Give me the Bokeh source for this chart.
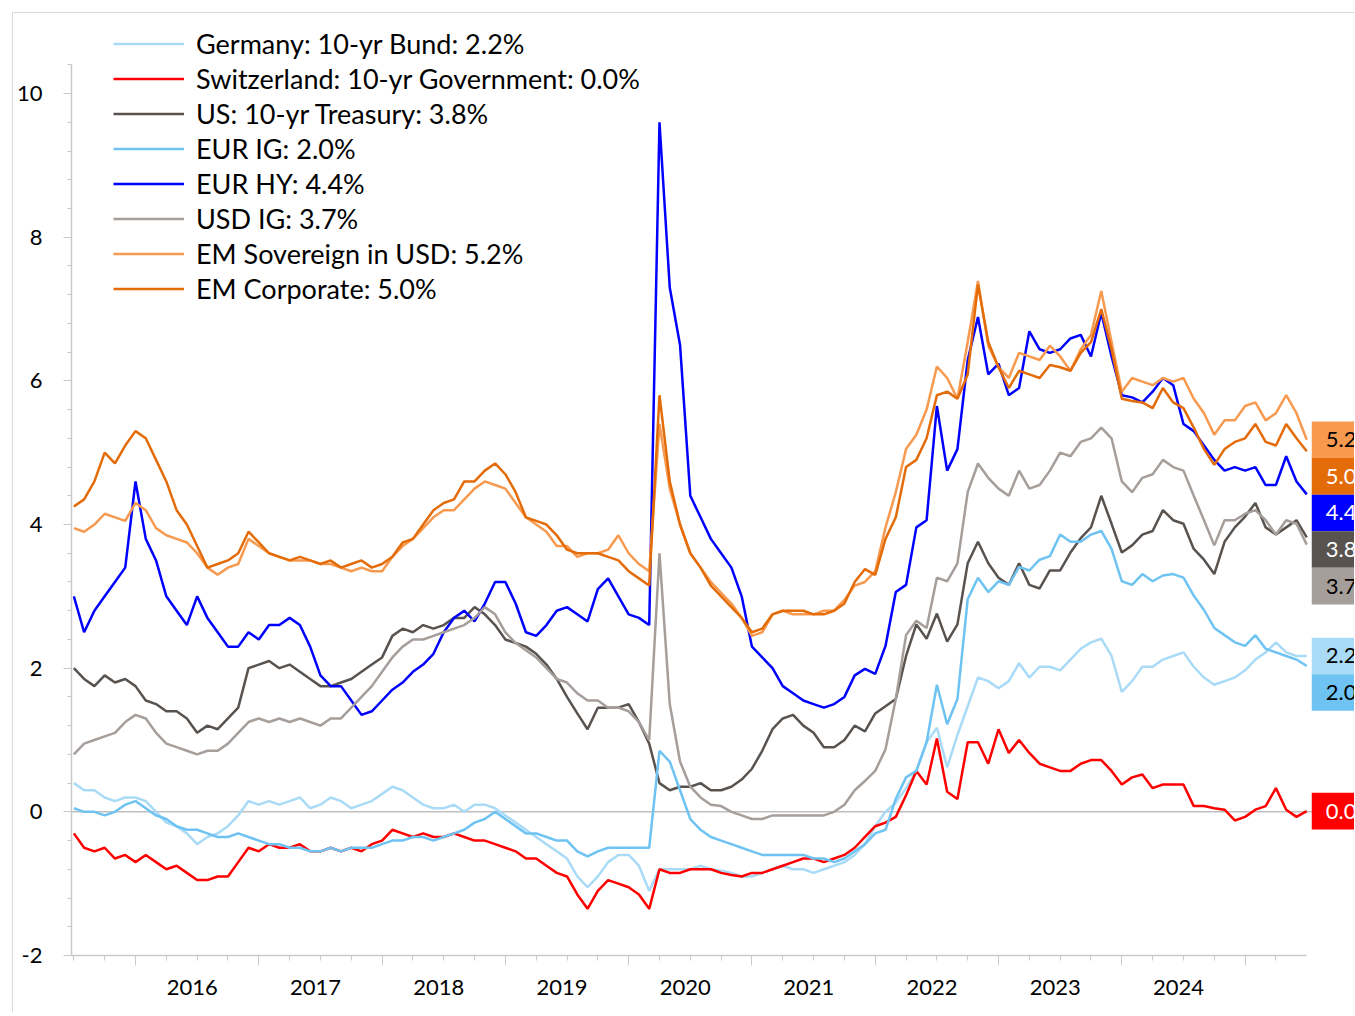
from bokeh.plotting import figure
from bokeh.models import (Range1d, FixedTicker, LinearAxis, Legend, LegendItem,
                          Span, CustomJSTickFormatter, ColumnDataSource)
from bokeh.core.properties import value
from bokeh.embed import file_html
from bokeh.resources import INLINE

FONT = "Lato"

# ---------------- data (monthly, Jul-2015 .. Jul-2025) ----------------
dates = [2015.5 + i / 12 for i in range(121)]

germany_bund = [
    0.4, 0.3, 0.3, 0.2, 0.15, 0.2, 0.2, 0.15, 0.0, -0.15,
    -0.2, -0.3, -0.45, -0.35, -0.3, -0.2, -0.05, 0.15, 0.1, 0.15,
    0.1, 0.15, 0.2, 0.05, 0.1, 0.2, 0.15, 0.05, 0.1, 0.15,
    0.25, 0.35, 0.3, 0.2, 0.1, 0.05, 0.05, 0.1, 0.0, 0.1,
    0.1, 0.05, -0.05, -0.15, -0.25, -0.35, -0.45, -0.55, -0.65, -0.9,
    -1.05, -0.9, -0.7, -0.6, -0.6, -0.75, -1.1, -0.8, -0.8, -0.8,
    -0.8, -0.75, -0.8, -0.82, -0.85, -0.9, -0.9, -0.85, -0.8, -0.75,
    -0.8, -0.8, -0.85, -0.8, -0.75, -0.7, -0.6,
    -0.45, -0.2, 0.0, 0.13, 0.33, 0.57, 0.97, 1.17, 0.62, 1.07,
    1.47, 1.87, 1.82, 1.72, 1.82, 2.07, 1.87, 2.02, 2.02, 1.97,
    2.12, 2.27, 2.36, 2.41, 2.17, 1.67, 1.82, 2.02, 2.02, 2.12,
    2.17, 2.22, 2.02, 1.87, 1.77, 1.82, 1.87, 1.97, 2.12, 2.22,
    2.36, 2.22, 2.17, 2.17]

switzerland_10y = [
    -0.3, -0.5, -0.55, -0.5, -0.65, -0.6, -0.7, -0.6, -0.7, -0.8,
    -0.75, -0.85, -0.95, -0.95, -0.9, -0.9, -0.7, -0.5, -0.55, -0.45,
    -0.5, -0.5, -0.45, -0.55, -0.55, -0.5, -0.55, -0.5, -0.55, -0.45,
    -0.4, -0.25, -0.3, -0.35, -0.3, -0.35, -0.35, -0.3, -0.35, -0.4,
    -0.4, -0.45, -0.5, -0.55, -0.65, -0.65, -0.75, -0.85, -0.9, -1.15,
    -1.35, -1.1, -0.95, -1.0, -1.05, -1.15, -1.35, -0.8, -0.85, -0.85,
    -0.8, -0.8, -0.8, -0.85, -0.88, -0.9, -0.85, -0.85, -0.8, -0.75,
    -0.7, -0.65, -0.65, -0.7, -0.65, -0.6, -0.5,
    -0.35, -0.2, -0.15, -0.07, 0.23, 0.57, 0.38, 1.02, 0.28, 0.18,
    0.97, 0.97, 0.67, 1.15, 0.82, 1.0, 0.82, 0.67, 0.62, 0.57,
    0.57, 0.67, 0.72, 0.72, 0.57, 0.38, 0.48, 0.52, 0.33, 0.38,
    0.38, 0.38, 0.08, 0.08, 0.05, 0.03, -0.12, -0.07, 0.03, 0.08,
    0.33, 0.03, -0.07, 0.01]

us_treasury = [
    2.0, 1.85, 1.75, 1.9, 1.8, 1.85, 1.75, 1.55, 1.5, 1.4,
    1.4, 1.3, 1.1, 1.2, 1.15, 1.3, 1.45, 2.0, 2.05, 2.1,
    2.0, 2.05, 1.95, 1.85, 1.75, 1.75, 1.8, 1.85, 1.95, 2.05,
    2.15, 2.45, 2.55, 2.5, 2.6, 2.55, 2.6, 2.7, 2.7, 2.85,
    2.75, 2.6, 2.4, 2.35, 2.3, 2.2, 2.05, 1.85, 1.6, 1.37,
    1.15, 1.45, 1.45, 1.45, 1.5, 1.25, 0.95, 0.4, 0.3, 0.35,
    0.35, 0.4, 0.3, 0.3, 0.35, 0.45, 0.6, 0.85, 1.15, 1.3,
    1.35, 1.2, 1.1, 0.9, 0.9, 1.0, 1.2,
    1.12, 1.37, 1.47, 1.57, 2.17, 2.61, 2.41, 2.76, 2.37, 2.61,
    3.46, 3.76, 3.46, 3.26, 3.16, 3.46, 3.16, 3.11, 3.36, 3.36,
    3.61, 3.81, 3.96, 4.40, 4.01, 3.61, 3.71, 3.86, 3.91, 4.20,
    4.06, 4.01, 3.66, 3.51, 3.31, 3.76, 3.96, 4.11, 4.30, 3.96,
    3.86, 3.96, 4.06, 3.82]

eur_ig = [
    0.05, 0.0, 0.0, -0.05, 0.0, 0.1, 0.15, 0.05, -0.05, -0.1,
    -0.2, -0.25, -0.25, -0.3, -0.35, -0.35, -0.3, -0.35, -0.4, -0.45,
    -0.45, -0.5, -0.5, -0.55, -0.55, -0.5, -0.55, -0.5, -0.5, -0.5,
    -0.45, -0.4, -0.4, -0.35, -0.35, -0.4, -0.35, -0.3, -0.25, -0.15,
    -0.1, 0.0, -0.1, -0.2, -0.3, -0.3, -0.35, -0.4, -0.4, -0.55,
    -0.62, -0.55, -0.5, -0.5, -0.5, -0.5, -0.5, 0.85, 0.7, 0.3,
    -0.1, -0.25, -0.35, -0.4, -0.45, -0.5, -0.55, -0.6, -0.6, -0.6,
    -0.6, -0.6, -0.65, -0.65, -0.7, -0.65, -0.55,
    -0.45, -0.3, -0.25, 0.18, 0.48, 0.57, 0.97, 1.77, 1.22, 1.57,
    2.96, 3.26, 3.06, 3.21, 3.16, 3.41, 3.36, 3.51, 3.56, 3.86,
    3.76, 3.76, 3.86, 3.91, 3.66, 3.21, 3.16, 3.31, 3.21, 3.29,
    3.31, 3.26, 3.01, 2.81, 2.56, 2.46, 2.36, 2.31, 2.46, 2.27,
    2.22, 2.17, 2.12, 2.03]

eur_hy = [
    3.0, 2.5, 2.8, 3.0, 3.2, 3.4, 4.6, 3.8, 3.5, 3.0,
    2.8, 2.6, 3.0, 2.7, 2.5, 2.3, 2.3, 2.5, 2.4, 2.6,
    2.6, 2.7, 2.6, 2.3, 1.9, 1.75, 1.75, 1.55, 1.35, 1.4,
    1.55, 1.7, 1.8, 1.95, 2.05, 2.2, 2.5, 2.7, 2.8, 2.65,
    2.9, 3.2, 3.2, 2.9, 2.5, 2.45, 2.6, 2.8, 2.85, 2.75,
    2.65, 3.1, 3.25, 3.0, 2.75, 2.7, 2.6, 9.6, 7.3, 6.5,
    4.4, 4.1, 3.8, 3.6, 3.4, 3.0, 2.3, 2.15, 2.0, 1.75,
    1.65, 1.55, 1.5, 1.45, 1.5, 1.6, 1.9,
    1.99, 1.92, 2.31, 3.06, 3.16, 3.96, 4.06, 5.65, 4.75, 5.05,
    6.29, 6.89, 6.09, 6.24, 5.80, 5.90, 6.69, 6.44, 6.39, 6.44,
    6.59, 6.64, 6.34, 6.95, 6.34, 5.80, 5.77, 5.70, 5.85, 6.04,
    5.94, 5.40, 5.30, 5.10, 4.90, 4.75, 4.80, 4.75, 4.80, 4.55,
    4.55, 4.95, 4.60, 4.42]

usd_ig = [
    0.8, 0.95, 1.0, 1.05, 1.1, 1.25, 1.35, 1.3, 1.1, 0.95,
    0.9, 0.85, 0.8, 0.85, 0.85, 0.95, 1.1, 1.25, 1.3, 1.25,
    1.3, 1.25, 1.3, 1.25, 1.2, 1.3, 1.3, 1.45, 1.6, 1.75,
    1.95, 2.15, 2.3, 2.4, 2.4, 2.45, 2.5, 2.55, 2.6, 2.7,
    2.85, 2.75, 2.5, 2.35, 2.25, 2.15, 2.0, 1.85, 1.8, 1.65,
    1.55, 1.55, 1.45, 1.45, 1.4, 1.25, 1.0, 3.6, 1.5, 0.7,
    0.35, 0.2, 0.1, 0.08, 0.0, -0.05, -0.1, -0.1, -0.05, -0.05,
    -0.05, -0.05, -0.05, -0.05, 0.0, 0.1, 0.3,
    0.43, 0.57, 0.87, 1.57, 2.46, 2.66, 2.56, 3.26, 3.21, 3.46,
    4.45, 4.85, 4.65, 4.50, 4.40, 4.75, 4.50, 4.55, 4.75, 5.00,
    4.95, 5.15, 5.20, 5.35, 5.20, 4.60, 4.45, 4.65, 4.70, 4.90,
    4.80, 4.75, 4.40, 4.06, 3.71, 4.06, 4.06, 4.15, 4.20, 4.06,
    3.86, 4.06, 4.01, 3.72]

em_sovereign = [
    3.95, 3.9, 4.0, 4.15, 4.1, 4.05, 4.3, 4.2, 3.95, 3.85,
    3.8, 3.75, 3.6, 3.4, 3.3, 3.4, 3.45, 3.8, 3.7, 3.6,
    3.55, 3.5, 3.5, 3.5, 3.45, 3.45, 3.4, 3.35, 3.4, 3.35,
    3.35, 3.55, 3.7, 3.8, 3.95, 4.1, 4.2, 4.2, 4.35, 4.5,
    4.6, 4.55, 4.5, 4.3, 4.1, 4.0, 3.9, 3.7, 3.7, 3.55,
    3.6, 3.6, 3.65, 3.85, 3.6, 3.45, 3.35, 5.4, 4.5, 4.0,
    3.6, 3.4, 3.2, 3.05, 2.9, 2.7, 2.45, 2.5, 2.75, 2.8,
    2.75, 2.75, 2.75, 2.8, 2.8, 2.95, 3.15,
    3.2, 3.35, 3.96, 4.45, 5.05, 5.25, 5.6, 6.2, 6.04, 5.75,
    6.54, 7.39, 6.49, 6.19, 6.04, 6.39, 6.34, 6.29, 6.49, 6.34,
    6.14, 6.44, 6.64, 7.25, 6.54, 5.85, 6.04, 5.99, 5.94, 6.04,
    5.99, 6.04, 5.75, 5.55, 5.25, 5.45, 5.45, 5.65, 5.70, 5.45,
    5.55, 5.80, 5.55, 5.18]

em_corporate = [
    4.25, 4.35, 4.6, 5.0, 4.85, 5.1, 5.3, 5.2, 4.9, 4.6,
    4.2, 4.0, 3.7, 3.4, 3.45, 3.5, 3.6, 3.9, 3.75, 3.6,
    3.55, 3.5, 3.55, 3.5, 3.45, 3.5, 3.4, 3.45, 3.5, 3.4,
    3.45, 3.55, 3.75, 3.8, 4.0, 4.2, 4.3, 4.35, 4.6, 4.6,
    4.75, 4.85, 4.7, 4.45, 4.1, 4.05, 4.0, 3.85, 3.65, 3.6,
    3.6, 3.6, 3.55, 3.5, 3.35, 3.25, 3.15, 5.8, 4.6, 4.0,
    3.6, 3.4, 3.15, 3.0, 2.85, 2.7, 2.5, 2.55, 2.75, 2.8,
    2.8, 2.8, 2.75, 2.75, 2.8, 2.9, 3.2,
    3.38, 3.30, 3.8, 4.10, 4.80, 4.90, 5.20, 5.80, 5.85, 5.75,
    6.09, 7.34, 6.54, 6.19, 5.90, 6.14, 6.09, 6.04, 6.22, 6.19,
    6.14, 6.39, 6.54, 7.0, 6.44, 5.75, 5.72, 5.70, 5.62, 5.90,
    5.70, 5.62, 5.35, 5.05, 4.83, 5.05, 5.15, 5.20, 5.40, 5.15,
    5.10, 5.40, 5.20, 5.02]

series_names = ["Germany: 10-yr Bund", "Switzerland: 10-yr Government",
                "US: 10-yr Treasury", "EUR IG", "EUR HY", "USD IG",
                "EM Sovereign in USD", "EM Corporate"]
series_values = [germany_bund, switzerland_10y, us_treasury, eur_ig, eur_hy,
                 usd_ig, em_sovereign, em_corporate]
series_colors = ["#a9dbf7", "#ff0000", "#595350", "#6ec3f2", "#0000ff",
                 "#a59e9a", "#f79a4f", "#e36c09"]
label_text_colors = ["#000000", "#ffffff", "#ffffff", "#000000", "#ffffff",
                     "#000000", "#000000", "#ffffff"]

year_ticks = list(range(2016, 2026))
quarter_ticks = [2015.5 + 0.25 * k for k in range(40)]
year_label_ticks = [y + 0.46 for y in range(2016, 2025)]
y_major_ticks = [-2, 0, 2, 4, 6, 8, 10]
y_minor_ticks = [round(-2 + 0.4 * k, 1) for k in range(32)]

# ---------------- geometry ----------------
W, H = 1342, 1000
CANVAS_TOP = 13          # page y of the canvas top (border at 12)
FRAME_BOTTOM = 955       # page y of the x axis
BORDER_L = 58
BORDER_B = H - (FRAME_BOTTOM - CANVAS_TOP)
PX_PER_YEAR = 123.29
PX_PER_UNIT = 71.83
x_start = 2016 - 64 / PX_PER_YEAR
x_end = x_start + (W - BORDER_L) / PX_PER_YEAR
y_start = -2
y_end = y_start + (H - BORDER_B) / PX_PER_UNIT

p = figure(width=W, height=H, output_backend="svg", toolbar_location=None,
           x_range=Range1d(x_start, x_end), y_range=Range1d(y_start, y_end),
           x_axis_type=None, y_axis_type=None,
           min_border_left=BORDER_L, min_border_right=0, min_border_top=0,
           min_border_bottom=BORDER_B)
p.outline_line_color = None
p.xgrid.visible = False
p.ygrid.visible = False
p.background_fill_color = "white"
p.border_fill_color = "white"
p.styles = {"margin-left": "12px", "margin-top": "12px",
            "border-left": "1px solid #d9d9d9", "border-top": "1px solid #d9d9d9"}

AX = "#c9c9c9"
# y axis
yaxis = LinearAxis(ticker=FixedTicker(ticks=y_major_ticks, minor_ticks=y_minor_ticks),
                   bounds=(-2, 10.4), axis_line_color=AX, axis_line_width=1.5,
                   major_tick_line_color=AX, minor_tick_line_color=AX,
                   major_tick_out=8, major_tick_in=0, minor_tick_out=4, minor_tick_in=0,
                   major_label_standoff=21, major_label_text_font=FONT,
                   major_label_text_font_size="22px", major_label_text_color="#000000",
                   formatter=CustomJSTickFormatter(code="return String(tick);"))
p.add_layout(yaxis, "left")

# x axis: ticks
xaxis_ticks = LinearAxis(ticker=FixedTicker(ticks=year_ticks, minor_ticks=quarter_ticks),
                         bounds=(x_start, dates[-1]), axis_line_color=AX, axis_line_width=1.5,
                         major_tick_line_color=AX, minor_tick_line_color=AX,
                         major_tick_out=10, major_tick_in=0, minor_tick_out=5, minor_tick_in=0,
                         major_label_standoff=0, major_label_text_font_size="1px",
                         formatter=CustomJSTickFormatter(code="return '';"))
p.add_layout(xaxis_ticks, "below")
# x axis: year labels
xaxis_labels = LinearAxis(ticker=FixedTicker(ticks=year_label_ticks, minor_ticks=[]),
                          axis_line_color=None, major_tick_line_color=None,
                          minor_tick_line_color=None, major_tick_out=0, major_tick_in=0,
                          major_label_standoff=14, major_label_text_font=FONT,
                          major_label_text_font_size="22px", major_label_text_color="#000000",
                          formatter=CustomJSTickFormatter(code="return String(Math.floor(tick));"))
p.add_layout(xaxis_labels, "below")

zero = Span(location=0, dimension="width", line_color="#bfbfbf", line_width=1.5,
            level="underlay")
p.add_layout(zero)

items = []
for name, vals, col in zip(series_names, series_values, series_colors):
    r = p.line(dates, vals, line_color=col, line_width=2.5)
    items.append(LegendItem(label=f"{name}: {vals[-1]:.1f}%", renderers=[r]))

legend = Legend(items=items, location=(42, 649.5), orientation="vertical",
                label_text_font=FONT, label_text_font_size="27px",
                label_text_color="#000000",
                glyph_width=71, glyph_height=35, label_height=35, label_standoff=12,
                spacing=0, padding=5, margin=0, border_line_color=None,
                background_fill_alpha=0)
p.add_layout(legend)

# right-hand value boxes, stacked to avoid overlap
BOX_H = 36.6 / PX_PER_UNIT
order = sorted(range(len(series_values)), key=lambda k: -series_values[k][-1])
centers = {}
prev = None
for k in order:
    v = series_values[k][-1]
    c = v if prev is None else min(v, prev - BOX_H)
    centers[k] = c
    prev = c
box_left = dates[-1] + 5 / PX_PER_YEAR
src = ColumnDataSource(dict(
    left=[box_left] * len(order),
    right=[x_end] * len(order),
    top=[centers[k] + BOX_H / 2 for k in order],
    bottom=[centers[k] - BOX_H / 2 for k in order],
    fill=[series_colors[k] for k in order],
    tx=[box_left + 14 / PX_PER_YEAR] * len(order),
    ty=[centers[k] for k in order],
    txt=[f"{series_values[k][-1]:.1f}" for k in order],
    tcol=[label_text_colors[k] for k in order],
))
p.quad(left="left", right="right", top="top", bottom="bottom", fill_color="fill",
       line_color=None, source=src)
p.text(x="tx", y="ty", text="txt", text_color="tcol", text_font=value(FONT),
       text_font_size="22px", text_baseline="middle", text_align="left", source=src)

open("out.html", "w").write(file_html(p, INLINE))
